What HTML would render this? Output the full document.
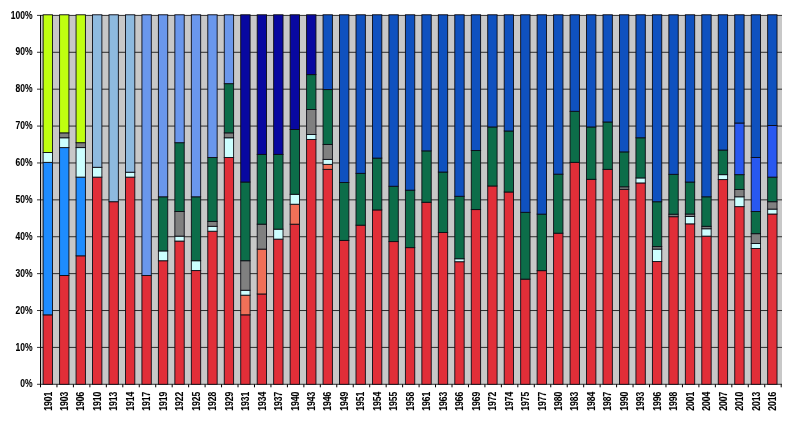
<!DOCTYPE html>
<html><head><meta charset="utf-8"><title>Chart</title>
<style>html,body{margin:0;padding:0;background:#fff}svg{display:block}text{font-family:"Liberation Sans",Arial,sans-serif;font-weight:bold;font-size:10.4px;fill:#000;stroke:#000;stroke-width:0.1px;stroke-linejoin:round}.t{filter:grayscale(1)}</style></head><body>
<svg width="800" height="421" viewBox="0 0 800 421">
<rect x="0" y="0" width="800" height="421" fill="#fff"/>
<rect x="40.5" y="15.4" width="741.5" height="368.9" fill="#C8C8C8"/>
<line x1="37.0" y1="384.30" x2="782.0" y2="384.30" stroke="#111" stroke-width="0.85"/>
<line x1="37.0" y1="347.41" x2="782.0" y2="347.41" stroke="#111" stroke-width="0.85"/>
<line x1="37.0" y1="310.52" x2="782.0" y2="310.52" stroke="#111" stroke-width="0.85"/>
<line x1="37.0" y1="273.63" x2="782.0" y2="273.63" stroke="#111" stroke-width="0.85"/>
<line x1="37.0" y1="236.74" x2="782.0" y2="236.74" stroke="#111" stroke-width="0.85"/>
<line x1="37.0" y1="199.85" x2="782.0" y2="199.85" stroke="#111" stroke-width="0.85"/>
<line x1="37.0" y1="162.96" x2="782.0" y2="162.96" stroke="#111" stroke-width="0.85"/>
<line x1="37.0" y1="126.07" x2="782.0" y2="126.07" stroke="#111" stroke-width="0.85"/>
<line x1="37.0" y1="89.18" x2="782.0" y2="89.18" stroke="#111" stroke-width="0.85"/>
<line x1="37.0" y1="52.29" x2="782.0" y2="52.29" stroke="#111" stroke-width="0.85"/>
<line x1="37.0" y1="15.40" x2="782.0" y2="15.40" stroke="#111" stroke-width="0.85"/>
<line x1="40.5" y1="14.9" x2="40.5" y2="384.8" stroke="#000" stroke-width="1" shape-rendering="crispEdges"/>
<line x1="40.50" y1="384.3" x2="40.50" y2="387.3" stroke="#000" stroke-width="1"/>
<line x1="56.96" y1="384.3" x2="56.96" y2="387.3" stroke="#000" stroke-width="1"/>
<line x1="73.42" y1="384.3" x2="73.42" y2="387.3" stroke="#000" stroke-width="1"/>
<line x1="89.88" y1="384.3" x2="89.88" y2="387.3" stroke="#000" stroke-width="1"/>
<line x1="106.34" y1="384.3" x2="106.34" y2="387.3" stroke="#000" stroke-width="1"/>
<line x1="122.80" y1="384.3" x2="122.80" y2="387.3" stroke="#000" stroke-width="1"/>
<line x1="139.26" y1="384.3" x2="139.26" y2="387.3" stroke="#000" stroke-width="1"/>
<line x1="155.72" y1="384.3" x2="155.72" y2="387.3" stroke="#000" stroke-width="1"/>
<line x1="172.18" y1="384.3" x2="172.18" y2="387.3" stroke="#000" stroke-width="1"/>
<line x1="188.64" y1="384.3" x2="188.64" y2="387.3" stroke="#000" stroke-width="1"/>
<line x1="205.10" y1="384.3" x2="205.10" y2="387.3" stroke="#000" stroke-width="1"/>
<line x1="221.56" y1="384.3" x2="221.56" y2="387.3" stroke="#000" stroke-width="1"/>
<line x1="238.02" y1="384.3" x2="238.02" y2="387.3" stroke="#000" stroke-width="1"/>
<line x1="254.48" y1="384.3" x2="254.48" y2="387.3" stroke="#000" stroke-width="1"/>
<line x1="270.94" y1="384.3" x2="270.94" y2="387.3" stroke="#000" stroke-width="1"/>
<line x1="287.40" y1="384.3" x2="287.40" y2="387.3" stroke="#000" stroke-width="1"/>
<line x1="303.86" y1="384.3" x2="303.86" y2="387.3" stroke="#000" stroke-width="1"/>
<line x1="320.32" y1="384.3" x2="320.32" y2="387.3" stroke="#000" stroke-width="1"/>
<line x1="336.78" y1="384.3" x2="336.78" y2="387.3" stroke="#000" stroke-width="1"/>
<line x1="353.24" y1="384.3" x2="353.24" y2="387.3" stroke="#000" stroke-width="1"/>
<line x1="369.70" y1="384.3" x2="369.70" y2="387.3" stroke="#000" stroke-width="1"/>
<line x1="386.16" y1="384.3" x2="386.16" y2="387.3" stroke="#000" stroke-width="1"/>
<line x1="402.62" y1="384.3" x2="402.62" y2="387.3" stroke="#000" stroke-width="1"/>
<line x1="419.08" y1="384.3" x2="419.08" y2="387.3" stroke="#000" stroke-width="1"/>
<line x1="435.54" y1="384.3" x2="435.54" y2="387.3" stroke="#000" stroke-width="1"/>
<line x1="452.00" y1="384.3" x2="452.00" y2="387.3" stroke="#000" stroke-width="1"/>
<line x1="468.46" y1="384.3" x2="468.46" y2="387.3" stroke="#000" stroke-width="1"/>
<line x1="484.92" y1="384.3" x2="484.92" y2="387.3" stroke="#000" stroke-width="1"/>
<line x1="501.38" y1="384.3" x2="501.38" y2="387.3" stroke="#000" stroke-width="1"/>
<line x1="517.84" y1="384.3" x2="517.84" y2="387.3" stroke="#000" stroke-width="1"/>
<line x1="534.30" y1="384.3" x2="534.30" y2="387.3" stroke="#000" stroke-width="1"/>
<line x1="550.76" y1="384.3" x2="550.76" y2="387.3" stroke="#000" stroke-width="1"/>
<line x1="567.22" y1="384.3" x2="567.22" y2="387.3" stroke="#000" stroke-width="1"/>
<line x1="583.68" y1="384.3" x2="583.68" y2="387.3" stroke="#000" stroke-width="1"/>
<line x1="600.14" y1="384.3" x2="600.14" y2="387.3" stroke="#000" stroke-width="1"/>
<line x1="616.60" y1="384.3" x2="616.60" y2="387.3" stroke="#000" stroke-width="1"/>
<line x1="633.06" y1="384.3" x2="633.06" y2="387.3" stroke="#000" stroke-width="1"/>
<line x1="649.52" y1="384.3" x2="649.52" y2="387.3" stroke="#000" stroke-width="1"/>
<line x1="665.98" y1="384.3" x2="665.98" y2="387.3" stroke="#000" stroke-width="1"/>
<line x1="682.44" y1="384.3" x2="682.44" y2="387.3" stroke="#000" stroke-width="1"/>
<line x1="698.90" y1="384.3" x2="698.90" y2="387.3" stroke="#000" stroke-width="1"/>
<line x1="715.36" y1="384.3" x2="715.36" y2="387.3" stroke="#000" stroke-width="1"/>
<line x1="731.82" y1="384.3" x2="731.82" y2="387.3" stroke="#000" stroke-width="1"/>
<line x1="748.28" y1="384.3" x2="748.28" y2="387.3" stroke="#000" stroke-width="1"/>
<line x1="764.74" y1="384.3" x2="764.74" y2="387.3" stroke="#000" stroke-width="1"/>
<line x1="781.20" y1="384.3" x2="781.20" y2="387.3" stroke="#000" stroke-width="1"/>
<rect x="43.12" y="314.84" width="9.35" height="69.46" fill="#E12E38" stroke="#0c0c14" stroke-width="0.9"/>
<rect x="43.12" y="162.36" width="9.35" height="152.48" fill="#1E8CFF" stroke="#0c0c14" stroke-width="0.9"/>
<rect x="43.12" y="152.52" width="9.35" height="9.84" fill="#CCFFFF" stroke="#0c0c14" stroke-width="0.9"/>
<rect x="43.12" y="14.80" width="9.35" height="137.72" fill="#C0FF10" stroke="#0c0c14" stroke-width="0.9"/>
<rect x="59.59" y="275.49" width="9.35" height="108.81" fill="#E12E38" stroke="#0c0c14" stroke-width="0.9"/>
<rect x="59.59" y="147.60" width="9.35" height="127.89" fill="#1E8CFF" stroke="#0c0c14" stroke-width="0.9"/>
<rect x="59.59" y="137.77" width="9.35" height="9.84" fill="#CCFFFF" stroke="#0c0c14" stroke-width="0.9"/>
<rect x="59.59" y="132.85" width="9.35" height="4.92" fill="#808080" stroke="#0c0c14" stroke-width="0.9"/>
<rect x="59.59" y="14.80" width="9.35" height="118.05" fill="#C0FF10" stroke="#0c0c14" stroke-width="0.9"/>
<rect x="76.06" y="255.81" width="9.35" height="128.49" fill="#E12E38" stroke="#0c0c14" stroke-width="0.9"/>
<rect x="76.06" y="177.12" width="9.35" height="78.70" fill="#1E8CFF" stroke="#0c0c14" stroke-width="0.9"/>
<rect x="76.06" y="147.60" width="9.35" height="29.51" fill="#CCFFFF" stroke="#0c0c14" stroke-width="0.9"/>
<rect x="76.06" y="142.69" width="9.35" height="4.92" fill="#808080" stroke="#0c0c14" stroke-width="0.9"/>
<rect x="76.06" y="14.80" width="9.35" height="127.89" fill="#C0FF10" stroke="#0c0c14" stroke-width="0.9"/>
<rect x="92.53" y="177.12" width="9.35" height="207.18" fill="#E12E38" stroke="#0c0c14" stroke-width="0.9"/>
<rect x="92.53" y="167.28" width="9.35" height="9.84" fill="#CCFFFF" stroke="#0c0c14" stroke-width="0.9"/>
<rect x="92.53" y="14.80" width="9.35" height="152.48" fill="#8EBADF" stroke="#0c0c14" stroke-width="0.9"/>
<rect x="108.99" y="201.71" width="9.35" height="182.59" fill="#E12E38" stroke="#0c0c14" stroke-width="0.9"/>
<rect x="108.99" y="14.80" width="9.35" height="186.91" fill="#8EBADF" stroke="#0c0c14" stroke-width="0.9"/>
<rect x="125.46" y="177.12" width="9.35" height="207.18" fill="#E12E38" stroke="#0c0c14" stroke-width="0.9"/>
<rect x="125.46" y="172.20" width="9.35" height="4.92" fill="#CCFFFF" stroke="#0c0c14" stroke-width="0.9"/>
<rect x="125.46" y="14.80" width="9.35" height="157.40" fill="#8EBADF" stroke="#0c0c14" stroke-width="0.9"/>
<rect x="141.93" y="275.49" width="9.35" height="108.81" fill="#E12E38" stroke="#0c0c14" stroke-width="0.9"/>
<rect x="141.93" y="14.80" width="9.35" height="260.69" fill="#6A97EC" stroke="#0c0c14" stroke-width="0.9"/>
<rect x="158.39" y="260.73" width="9.35" height="123.57" fill="#E12E38" stroke="#0c0c14" stroke-width="0.9"/>
<rect x="158.39" y="250.90" width="9.35" height="9.84" fill="#CCFFFF" stroke="#0c0c14" stroke-width="0.9"/>
<rect x="158.39" y="196.79" width="9.35" height="54.11" fill="#0C6D49" stroke="#0c0c14" stroke-width="0.9"/>
<rect x="158.39" y="14.80" width="9.35" height="181.99" fill="#6A97EC" stroke="#0c0c14" stroke-width="0.9"/>
<rect x="174.86" y="241.06" width="9.35" height="143.24" fill="#E12E38" stroke="#0c0c14" stroke-width="0.9"/>
<rect x="174.86" y="236.14" width="9.35" height="4.92" fill="#CCFFFF" stroke="#0c0c14" stroke-width="0.9"/>
<rect x="174.86" y="211.55" width="9.35" height="24.59" fill="#808080" stroke="#0c0c14" stroke-width="0.9"/>
<rect x="174.86" y="142.69" width="9.35" height="68.86" fill="#0C6D49" stroke="#0c0c14" stroke-width="0.9"/>
<rect x="174.86" y="14.80" width="9.35" height="127.89" fill="#6A97EC" stroke="#0c0c14" stroke-width="0.9"/>
<rect x="191.33" y="270.57" width="9.35" height="113.73" fill="#E12E38" stroke="#0c0c14" stroke-width="0.9"/>
<rect x="191.33" y="260.73" width="9.35" height="9.84" fill="#CCFFFF" stroke="#0c0c14" stroke-width="0.9"/>
<rect x="191.33" y="196.79" width="9.35" height="63.94" fill="#0C6D49" stroke="#0c0c14" stroke-width="0.9"/>
<rect x="191.33" y="14.80" width="9.35" height="181.99" fill="#6A97EC" stroke="#0c0c14" stroke-width="0.9"/>
<rect x="207.79" y="231.22" width="9.35" height="153.08" fill="#E12E38" stroke="#0c0c14" stroke-width="0.9"/>
<rect x="207.79" y="226.30" width="9.35" height="4.92" fill="#CCFFFF" stroke="#0c0c14" stroke-width="0.9"/>
<rect x="207.79" y="221.38" width="9.35" height="4.92" fill="#808080" stroke="#0c0c14" stroke-width="0.9"/>
<rect x="207.79" y="157.44" width="9.35" height="63.94" fill="#0C6D49" stroke="#0c0c14" stroke-width="0.9"/>
<rect x="207.79" y="14.80" width="9.35" height="142.64" fill="#6A97EC" stroke="#0c0c14" stroke-width="0.9"/>
<rect x="224.26" y="157.44" width="9.35" height="226.86" fill="#E12E38" stroke="#0c0c14" stroke-width="0.9"/>
<rect x="224.26" y="137.77" width="9.35" height="19.67" fill="#CCFFFF" stroke="#0c0c14" stroke-width="0.9"/>
<rect x="224.26" y="132.85" width="9.35" height="4.92" fill="#808080" stroke="#0c0c14" stroke-width="0.9"/>
<rect x="224.26" y="83.66" width="9.35" height="49.19" fill="#0C6D49" stroke="#0c0c14" stroke-width="0.9"/>
<rect x="224.26" y="14.80" width="9.35" height="68.86" fill="#6A97EC" stroke="#0c0c14" stroke-width="0.9"/>
<rect x="240.73" y="314.84" width="9.35" height="69.46" fill="#E12E38" stroke="#0c0c14" stroke-width="0.9"/>
<rect x="240.73" y="295.16" width="9.35" height="19.67" fill="#F07058" stroke="#0c0c14" stroke-width="0.9"/>
<rect x="240.73" y="290.25" width="9.35" height="4.92" fill="#CCFFFF" stroke="#0c0c14" stroke-width="0.9"/>
<rect x="240.73" y="260.73" width="9.35" height="29.51" fill="#808080" stroke="#0c0c14" stroke-width="0.9"/>
<rect x="240.73" y="182.03" width="9.35" height="78.70" fill="#0C6D49" stroke="#0c0c14" stroke-width="0.9"/>
<rect x="240.73" y="14.80" width="9.35" height="167.23" fill="#0808A0" stroke="#0c0c14" stroke-width="0.9"/>
<rect x="257.20" y="293.97" width="9.35" height="90.33" fill="#E12E38" stroke="#0c0c14" stroke-width="0.9"/>
<rect x="257.20" y="249.10" width="9.35" height="44.87" fill="#F07058" stroke="#0c0c14" stroke-width="0.9"/>
<rect x="257.20" y="224.18" width="9.35" height="24.93" fill="#808080" stroke="#0c0c14" stroke-width="0.9"/>
<rect x="257.20" y="154.38" width="9.35" height="69.79" fill="#0C6D49" stroke="#0c0c14" stroke-width="0.9"/>
<rect x="257.20" y="14.80" width="9.35" height="139.58" fill="#0808A0" stroke="#0c0c14" stroke-width="0.9"/>
<rect x="273.66" y="239.13" width="9.35" height="145.17" fill="#E12E38" stroke="#0c0c14" stroke-width="0.9"/>
<rect x="273.66" y="229.16" width="9.35" height="9.97" fill="#CCFFFF" stroke="#0c0c14" stroke-width="0.9"/>
<rect x="273.66" y="154.38" width="9.35" height="74.78" fill="#0C6D49" stroke="#0c0c14" stroke-width="0.9"/>
<rect x="273.66" y="14.80" width="9.35" height="139.58" fill="#0808A0" stroke="#0c0c14" stroke-width="0.9"/>
<rect x="290.13" y="224.18" width="9.35" height="160.12" fill="#E12E38" stroke="#0c0c14" stroke-width="0.9"/>
<rect x="290.13" y="204.24" width="9.35" height="19.94" fill="#F07058" stroke="#0c0c14" stroke-width="0.9"/>
<rect x="290.13" y="194.26" width="9.35" height="9.97" fill="#CCFFFF" stroke="#0c0c14" stroke-width="0.9"/>
<rect x="290.13" y="129.46" width="9.35" height="64.81" fill="#0C6D49" stroke="#0c0c14" stroke-width="0.9"/>
<rect x="290.13" y="14.80" width="9.35" height="114.66" fill="#0808A0" stroke="#0c0c14" stroke-width="0.9"/>
<rect x="306.60" y="139.43" width="9.35" height="244.87" fill="#E12E38" stroke="#0c0c14" stroke-width="0.9"/>
<rect x="306.60" y="134.44" width="9.35" height="4.99" fill="#CCFFFF" stroke="#0c0c14" stroke-width="0.9"/>
<rect x="306.60" y="109.52" width="9.35" height="24.93" fill="#808080" stroke="#0c0c14" stroke-width="0.9"/>
<rect x="306.60" y="74.62" width="9.35" height="34.90" fill="#0C6D49" stroke="#0c0c14" stroke-width="0.9"/>
<rect x="306.60" y="14.80" width="9.35" height="59.82" fill="#0808A0" stroke="#0c0c14" stroke-width="0.9"/>
<rect x="323.06" y="169.34" width="9.35" height="214.96" fill="#E12E38" stroke="#0c0c14" stroke-width="0.9"/>
<rect x="323.06" y="164.35" width="9.35" height="4.99" fill="#F07058" stroke="#0c0c14" stroke-width="0.9"/>
<rect x="323.06" y="159.37" width="9.35" height="4.99" fill="#CCFFFF" stroke="#0c0c14" stroke-width="0.9"/>
<rect x="323.06" y="144.41" width="9.35" height="14.96" fill="#808080" stroke="#0c0c14" stroke-width="0.9"/>
<rect x="323.06" y="89.58" width="9.35" height="54.84" fill="#0C6D49" stroke="#0c0c14" stroke-width="0.9"/>
<rect x="323.06" y="14.80" width="9.35" height="74.78" fill="#0F51BF" stroke="#0c0c14" stroke-width="0.9"/>
<rect x="339.53" y="240.41" width="9.35" height="143.89" fill="#E12E38" stroke="#0c0c14" stroke-width="0.9"/>
<rect x="339.53" y="182.48" width="9.35" height="57.93" fill="#0C6D49" stroke="#0c0c14" stroke-width="0.9"/>
<rect x="339.53" y="14.80" width="9.35" height="167.68" fill="#0F51BF" stroke="#0c0c14" stroke-width="0.9"/>
<rect x="356.00" y="225.16" width="9.35" height="159.14" fill="#E12E38" stroke="#0c0c14" stroke-width="0.9"/>
<rect x="356.00" y="173.34" width="9.35" height="51.83" fill="#0C6D49" stroke="#0c0c14" stroke-width="0.9"/>
<rect x="356.00" y="14.80" width="9.35" height="158.54" fill="#0F51BF" stroke="#0c0c14" stroke-width="0.9"/>
<rect x="372.46" y="209.92" width="9.35" height="174.38" fill="#E12E38" stroke="#0c0c14" stroke-width="0.9"/>
<rect x="372.46" y="158.09" width="9.35" height="51.83" fill="#0C6D49" stroke="#0c0c14" stroke-width="0.9"/>
<rect x="372.46" y="14.80" width="9.35" height="143.29" fill="#0F51BF" stroke="#0c0c14" stroke-width="0.9"/>
<rect x="388.93" y="241.58" width="9.35" height="142.72" fill="#E12E38" stroke="#0c0c14" stroke-width="0.9"/>
<rect x="388.93" y="186.25" width="9.35" height="55.34" fill="#0C6D49" stroke="#0c0c14" stroke-width="0.9"/>
<rect x="388.93" y="14.80" width="9.35" height="171.45" fill="#0F51BF" stroke="#0c0c14" stroke-width="0.9"/>
<rect x="405.40" y="247.63" width="9.35" height="136.67" fill="#E12E38" stroke="#0c0c14" stroke-width="0.9"/>
<rect x="405.40" y="190.18" width="9.35" height="57.45" fill="#0C6D49" stroke="#0c0c14" stroke-width="0.9"/>
<rect x="405.40" y="14.80" width="9.35" height="175.38" fill="#0F51BF" stroke="#0c0c14" stroke-width="0.9"/>
<rect x="421.87" y="202.27" width="9.35" height="182.03" fill="#E12E38" stroke="#0c0c14" stroke-width="0.9"/>
<rect x="421.87" y="150.87" width="9.35" height="51.40" fill="#0C6D49" stroke="#0c0c14" stroke-width="0.9"/>
<rect x="421.87" y="14.80" width="9.35" height="136.07" fill="#0F51BF" stroke="#0c0c14" stroke-width="0.9"/>
<rect x="438.33" y="232.51" width="9.35" height="151.79" fill="#E12E38" stroke="#0c0c14" stroke-width="0.9"/>
<rect x="438.33" y="172.04" width="9.35" height="60.48" fill="#0C6D49" stroke="#0c0c14" stroke-width="0.9"/>
<rect x="438.33" y="14.80" width="9.35" height="157.24" fill="#0F51BF" stroke="#0c0c14" stroke-width="0.9"/>
<rect x="454.80" y="261.72" width="9.35" height="122.58" fill="#E12E38" stroke="#0c0c14" stroke-width="0.9"/>
<rect x="454.80" y="258.75" width="9.35" height="2.97" fill="#CCFFFF" stroke="#0c0c14" stroke-width="0.9"/>
<rect x="454.80" y="196.27" width="9.35" height="62.48" fill="#0C6D49" stroke="#0c0c14" stroke-width="0.9"/>
<rect x="454.80" y="14.80" width="9.35" height="181.48" fill="#0F51BF" stroke="#0c0c14" stroke-width="0.9"/>
<rect x="471.27" y="209.58" width="9.35" height="174.72" fill="#E12E38" stroke="#0c0c14" stroke-width="0.9"/>
<rect x="471.27" y="150.56" width="9.35" height="59.02" fill="#0C6D49" stroke="#0c0c14" stroke-width="0.9"/>
<rect x="471.27" y="14.80" width="9.35" height="135.76" fill="#0F51BF" stroke="#0c0c14" stroke-width="0.9"/>
<rect x="487.73" y="185.97" width="9.35" height="198.33" fill="#E12E38" stroke="#0c0c14" stroke-width="0.9"/>
<rect x="487.73" y="126.95" width="9.35" height="59.02" fill="#0C6D49" stroke="#0c0c14" stroke-width="0.9"/>
<rect x="487.73" y="14.80" width="9.35" height="112.15" fill="#0F51BF" stroke="#0c0c14" stroke-width="0.9"/>
<rect x="504.20" y="191.99" width="9.35" height="192.31" fill="#E12E38" stroke="#0c0c14" stroke-width="0.9"/>
<rect x="504.20" y="130.99" width="9.35" height="61.00" fill="#0C6D49" stroke="#0c0c14" stroke-width="0.9"/>
<rect x="504.20" y="14.80" width="9.35" height="116.19" fill="#0F51BF" stroke="#0c0c14" stroke-width="0.9"/>
<rect x="520.67" y="279.13" width="9.35" height="105.17" fill="#E12E38" stroke="#0c0c14" stroke-width="0.9"/>
<rect x="520.67" y="212.32" width="9.35" height="66.81" fill="#0C6D49" stroke="#0c0c14" stroke-width="0.9"/>
<rect x="520.67" y="14.80" width="9.35" height="197.52" fill="#0F51BF" stroke="#0c0c14" stroke-width="0.9"/>
<rect x="537.13" y="270.65" width="9.35" height="113.65" fill="#E12E38" stroke="#0c0c14" stroke-width="0.9"/>
<rect x="537.13" y="214.12" width="9.35" height="56.53" fill="#0C6D49" stroke="#0c0c14" stroke-width="0.9"/>
<rect x="537.13" y="14.80" width="9.35" height="199.33" fill="#0F51BF" stroke="#0c0c14" stroke-width="0.9"/>
<rect x="553.60" y="233.19" width="9.35" height="151.11" fill="#E12E38" stroke="#0c0c14" stroke-width="0.9"/>
<rect x="553.60" y="174.16" width="9.35" height="59.02" fill="#0C6D49" stroke="#0c0c14" stroke-width="0.9"/>
<rect x="553.60" y="14.80" width="9.35" height="159.36" fill="#0F51BF" stroke="#0c0c14" stroke-width="0.9"/>
<rect x="570.07" y="162.36" width="9.35" height="221.94" fill="#E12E38" stroke="#0c0c14" stroke-width="0.9"/>
<rect x="570.07" y="111.30" width="9.35" height="51.06" fill="#0C6D49" stroke="#0c0c14" stroke-width="0.9"/>
<rect x="570.07" y="14.80" width="9.35" height="96.50" fill="#0F51BF" stroke="#0c0c14" stroke-width="0.9"/>
<rect x="586.54" y="179.31" width="9.35" height="204.99" fill="#E12E38" stroke="#0c0c14" stroke-width="0.9"/>
<rect x="586.54" y="126.97" width="9.35" height="52.34" fill="#0C6D49" stroke="#0c0c14" stroke-width="0.9"/>
<rect x="586.54" y="14.80" width="9.35" height="112.17" fill="#0F51BF" stroke="#0c0c14" stroke-width="0.9"/>
<rect x="603.00" y="169.34" width="9.35" height="214.96" fill="#E12E38" stroke="#0c0c14" stroke-width="0.9"/>
<rect x="603.00" y="121.98" width="9.35" height="47.36" fill="#0C6D49" stroke="#0c0c14" stroke-width="0.9"/>
<rect x="603.00" y="14.80" width="9.35" height="107.18" fill="#0F51BF" stroke="#0c0c14" stroke-width="0.9"/>
<rect x="619.47" y="189.28" width="9.35" height="195.02" fill="#E12E38" stroke="#0c0c14" stroke-width="0.9"/>
<rect x="619.47" y="186.79" width="9.35" height="2.49" fill="#808080" stroke="#0c0c14" stroke-width="0.9"/>
<rect x="619.47" y="151.89" width="9.35" height="34.90" fill="#0C6D49" stroke="#0c0c14" stroke-width="0.9"/>
<rect x="619.47" y="14.80" width="9.35" height="137.09" fill="#0F51BF" stroke="#0c0c14" stroke-width="0.9"/>
<rect x="635.94" y="182.94" width="9.35" height="201.36" fill="#E12E38" stroke="#0c0c14" stroke-width="0.9"/>
<rect x="635.94" y="177.92" width="9.35" height="5.02" fill="#CCFFFF" stroke="#0c0c14" stroke-width="0.9"/>
<rect x="635.94" y="137.77" width="9.35" height="40.15" fill="#0C6D49" stroke="#0c0c14" stroke-width="0.9"/>
<rect x="635.94" y="14.80" width="9.35" height="122.97" fill="#0F51BF" stroke="#0c0c14" stroke-width="0.9"/>
<rect x="652.40" y="261.56" width="9.35" height="122.74" fill="#E12E38" stroke="#0c0c14" stroke-width="0.9"/>
<rect x="652.40" y="249.10" width="9.35" height="12.46" fill="#CCFFFF" stroke="#0c0c14" stroke-width="0.9"/>
<rect x="652.40" y="246.61" width="9.35" height="2.49" fill="#808080" stroke="#0c0c14" stroke-width="0.9"/>
<rect x="652.40" y="201.74" width="9.35" height="44.87" fill="#0C6D49" stroke="#0c0c14" stroke-width="0.9"/>
<rect x="652.40" y="14.80" width="9.35" height="186.94" fill="#0F51BF" stroke="#0c0c14" stroke-width="0.9"/>
<rect x="668.87" y="216.70" width="9.35" height="167.60" fill="#E12E38" stroke="#0c0c14" stroke-width="0.9"/>
<rect x="668.87" y="214.21" width="9.35" height="2.49" fill="#808080" stroke="#0c0c14" stroke-width="0.9"/>
<rect x="668.87" y="174.32" width="9.35" height="39.88" fill="#0C6D49" stroke="#0c0c14" stroke-width="0.9"/>
<rect x="668.87" y="14.80" width="9.35" height="159.52" fill="#0F51BF" stroke="#0c0c14" stroke-width="0.9"/>
<rect x="685.34" y="223.84" width="9.35" height="160.46" fill="#E12E38" stroke="#0c0c14" stroke-width="0.9"/>
<rect x="685.34" y="216.47" width="9.35" height="7.38" fill="#CCFFFF" stroke="#0c0c14" stroke-width="0.9"/>
<rect x="685.34" y="214.01" width="9.35" height="2.46" fill="#808080" stroke="#0c0c14" stroke-width="0.9"/>
<rect x="685.34" y="182.03" width="9.35" height="31.97" fill="#0C6D49" stroke="#0c0c14" stroke-width="0.9"/>
<rect x="685.34" y="14.80" width="9.35" height="167.23" fill="#0F51BF" stroke="#0c0c14" stroke-width="0.9"/>
<rect x="701.80" y="236.14" width="9.35" height="148.16" fill="#E12E38" stroke="#0c0c14" stroke-width="0.9"/>
<rect x="701.80" y="228.76" width="9.35" height="7.38" fill="#CCFFFF" stroke="#0c0c14" stroke-width="0.9"/>
<rect x="701.80" y="226.30" width="9.35" height="2.46" fill="#808080" stroke="#0c0c14" stroke-width="0.9"/>
<rect x="701.80" y="196.79" width="9.35" height="29.51" fill="#0C6D49" stroke="#0c0c14" stroke-width="0.9"/>
<rect x="701.80" y="14.80" width="9.35" height="181.99" fill="#0F51BF" stroke="#0c0c14" stroke-width="0.9"/>
<rect x="718.27" y="179.58" width="9.35" height="204.72" fill="#E12E38" stroke="#0c0c14" stroke-width="0.9"/>
<rect x="718.27" y="174.66" width="9.35" height="4.92" fill="#CCFFFF" stroke="#0c0c14" stroke-width="0.9"/>
<rect x="718.27" y="150.06" width="9.35" height="24.59" fill="#0C6D49" stroke="#0c0c14" stroke-width="0.9"/>
<rect x="718.27" y="14.80" width="9.35" height="135.26" fill="#0F51BF" stroke="#0c0c14" stroke-width="0.9"/>
<rect x="734.74" y="206.63" width="9.35" height="177.67" fill="#E12E38" stroke="#0c0c14" stroke-width="0.9"/>
<rect x="734.74" y="196.79" width="9.35" height="9.84" fill="#CCFFFF" stroke="#0c0c14" stroke-width="0.9"/>
<rect x="734.74" y="189.41" width="9.35" height="7.38" fill="#808080" stroke="#0c0c14" stroke-width="0.9"/>
<rect x="734.74" y="174.66" width="9.35" height="14.76" fill="#0C6D49" stroke="#0c0c14" stroke-width="0.9"/>
<rect x="734.74" y="123.01" width="9.35" height="51.65" fill="#2858F0" stroke="#0c0c14" stroke-width="0.9"/>
<rect x="734.74" y="14.80" width="9.35" height="108.21" fill="#0F51BF" stroke="#0c0c14" stroke-width="0.9"/>
<rect x="751.21" y="248.44" width="9.35" height="135.86" fill="#E12E38" stroke="#0c0c14" stroke-width="0.9"/>
<rect x="751.21" y="243.52" width="9.35" height="4.92" fill="#CCFFFF" stroke="#0c0c14" stroke-width="0.9"/>
<rect x="751.21" y="233.68" width="9.35" height="9.84" fill="#808080" stroke="#0c0c14" stroke-width="0.9"/>
<rect x="751.21" y="211.55" width="9.35" height="22.13" fill="#0C6D49" stroke="#0c0c14" stroke-width="0.9"/>
<rect x="751.21" y="157.44" width="9.35" height="54.11" fill="#2858F0" stroke="#0c0c14" stroke-width="0.9"/>
<rect x="751.21" y="14.80" width="9.35" height="142.64" fill="#0F51BF" stroke="#0c0c14" stroke-width="0.9"/>
<rect x="767.67" y="214.01" width="9.35" height="170.29" fill="#E12E38" stroke="#0c0c14" stroke-width="0.9"/>
<rect x="767.67" y="209.09" width="9.35" height="4.92" fill="#CCFFFF" stroke="#0c0c14" stroke-width="0.9"/>
<rect x="767.67" y="201.71" width="9.35" height="7.38" fill="#808080" stroke="#0c0c14" stroke-width="0.9"/>
<rect x="767.67" y="177.12" width="9.35" height="24.59" fill="#0C6D49" stroke="#0c0c14" stroke-width="0.9"/>
<rect x="767.67" y="125.47" width="9.35" height="51.65" fill="#2858F0" stroke="#0c0c14" stroke-width="0.9"/>
<rect x="767.67" y="14.80" width="9.35" height="110.67" fill="#0F51BF" stroke="#0c0c14" stroke-width="0.9"/>
<g class="t">
<text transform="translate(32.6,387.40) scale(0.82,1)" text-anchor="end">0%</text>
<text transform="translate(32.6,350.51) scale(0.82,1)" text-anchor="end">10%</text>
<text transform="translate(32.6,313.62) scale(0.82,1)" text-anchor="end">20%</text>
<text transform="translate(32.6,276.73) scale(0.82,1)" text-anchor="end">30%</text>
<text transform="translate(32.6,239.84) scale(0.82,1)" text-anchor="end">40%</text>
<text transform="translate(32.6,202.95) scale(0.82,1)" text-anchor="end">50%</text>
<text transform="translate(32.6,166.06) scale(0.82,1)" text-anchor="end">60%</text>
<text transform="translate(32.6,129.17) scale(0.82,1)" text-anchor="end">70%</text>
<text transform="translate(32.6,92.28) scale(0.82,1)" text-anchor="end">80%</text>
<text transform="translate(32.6,55.39) scale(0.82,1)" text-anchor="end">90%</text>
<text transform="translate(32.6,18.50) scale(0.82,1)" text-anchor="end">100%</text>
<text transform="translate(51.50,410.7) rotate(-90) scale(0.82,1)">1901</text>
<text transform="translate(67.97,410.7) rotate(-90) scale(0.82,1)">1903</text>
<text transform="translate(84.43,410.7) rotate(-90) scale(0.82,1)">1906</text>
<text transform="translate(100.90,410.7) rotate(-90) scale(0.82,1)">1910</text>
<text transform="translate(117.37,410.7) rotate(-90) scale(0.82,1)">1913</text>
<text transform="translate(133.83,410.7) rotate(-90) scale(0.82,1)">1914</text>
<text transform="translate(150.30,410.7) rotate(-90) scale(0.82,1)">1917</text>
<text transform="translate(166.77,410.7) rotate(-90) scale(0.82,1)">1919</text>
<text transform="translate(183.24,410.7) rotate(-90) scale(0.82,1)">1922</text>
<text transform="translate(199.70,410.7) rotate(-90) scale(0.82,1)">1925</text>
<text transform="translate(216.17,410.7) rotate(-90) scale(0.82,1)">1928</text>
<text transform="translate(232.64,410.7) rotate(-90) scale(0.82,1)">1929</text>
<text transform="translate(249.10,410.7) rotate(-90) scale(0.82,1)">1931</text>
<text transform="translate(265.57,410.7) rotate(-90) scale(0.82,1)">1934</text>
<text transform="translate(282.04,410.7) rotate(-90) scale(0.82,1)">1937</text>
<text transform="translate(298.50,410.7) rotate(-90) scale(0.82,1)">1940</text>
<text transform="translate(314.97,410.7) rotate(-90) scale(0.82,1)">1943</text>
<text transform="translate(331.44,410.7) rotate(-90) scale(0.82,1)">1946</text>
<text transform="translate(347.91,410.7) rotate(-90) scale(0.82,1)">1949</text>
<text transform="translate(364.37,410.7) rotate(-90) scale(0.82,1)">1951</text>
<text transform="translate(380.84,410.7) rotate(-90) scale(0.82,1)">1954</text>
<text transform="translate(397.31,410.7) rotate(-90) scale(0.82,1)">1955</text>
<text transform="translate(413.77,410.7) rotate(-90) scale(0.82,1)">1958</text>
<text transform="translate(430.24,410.7) rotate(-90) scale(0.82,1)">1961</text>
<text transform="translate(446.71,410.7) rotate(-90) scale(0.82,1)">1963</text>
<text transform="translate(463.17,410.7) rotate(-90) scale(0.82,1)">1966</text>
<text transform="translate(479.64,410.7) rotate(-90) scale(0.82,1)">1969</text>
<text transform="translate(496.11,410.7) rotate(-90) scale(0.82,1)">1972</text>
<text transform="translate(512.58,410.7) rotate(-90) scale(0.82,1)">1974</text>
<text transform="translate(529.04,410.7) rotate(-90) scale(0.82,1)">1975</text>
<text transform="translate(545.51,410.7) rotate(-90) scale(0.82,1)">1977</text>
<text transform="translate(561.98,410.7) rotate(-90) scale(0.82,1)">1980</text>
<text transform="translate(578.44,410.7) rotate(-90) scale(0.82,1)">1983</text>
<text transform="translate(594.91,410.7) rotate(-90) scale(0.82,1)">1984</text>
<text transform="translate(611.38,410.7) rotate(-90) scale(0.82,1)">1987</text>
<text transform="translate(627.84,410.7) rotate(-90) scale(0.82,1)">1990</text>
<text transform="translate(644.31,410.7) rotate(-90) scale(0.82,1)">1993</text>
<text transform="translate(660.78,410.7) rotate(-90) scale(0.82,1)">1996</text>
<text transform="translate(677.25,410.7) rotate(-90) scale(0.82,1)">1998</text>
<text transform="translate(693.71,410.7) rotate(-90) scale(0.82,1)">2001</text>
<text transform="translate(710.18,410.7) rotate(-90) scale(0.82,1)">2004</text>
<text transform="translate(726.65,410.7) rotate(-90) scale(0.82,1)">2007</text>
<text transform="translate(743.11,410.7) rotate(-90) scale(0.82,1)">2010</text>
<text transform="translate(759.58,410.7) rotate(-90) scale(0.82,1)">2013</text>
<text transform="translate(776.05,410.7) rotate(-90) scale(0.82,1)">2016</text>
</g>
</svg></body></html>
